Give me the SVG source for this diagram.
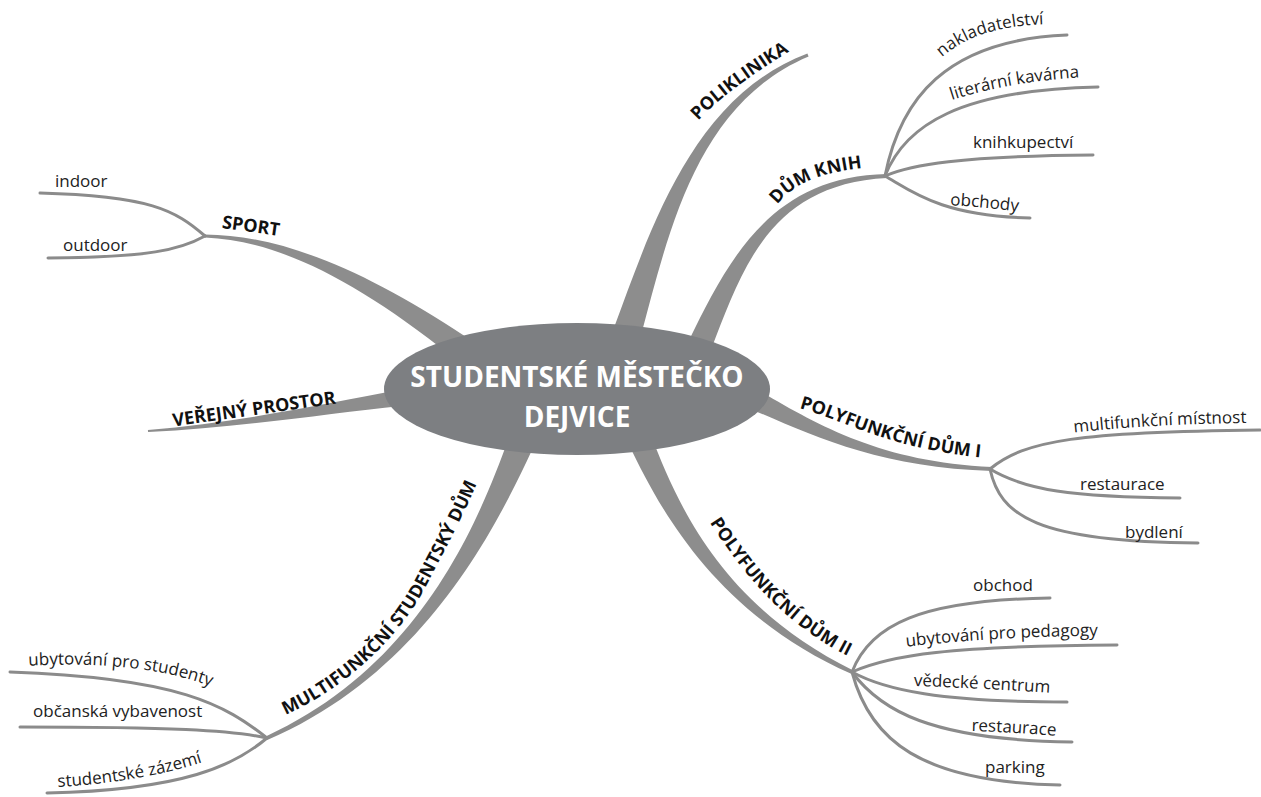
<svg xmlns="http://www.w3.org/2000/svg" width="1261" height="797" viewBox="0 0 1261 797">
  <style>
    .branch { fill: #8d8d8d; }
    .twig { fill: none; stroke: #8b8b8b; stroke-width: 3; stroke-linecap: round; }
    .topic { font-family: "Open Sans", "Liberation Sans", sans-serif; font-weight: 700; font-size: 18px; fill: #111; }
    .leaf { font-family: "Open Sans", "Liberation Sans", sans-serif; font-size: 17px; fill: #222; }
    .hub { font-family: "Open Sans", "Liberation Sans", sans-serif; font-weight: 700; font-size: 28px; fill: #fff; text-anchor: middle; }
    .mid { text-anchor: middle; }
  </style>
  <defs>
    <!-- baselines for curved labels -->
    <path id="tp-poli" d="M 690 130 C 710 105, 745 78, 800 45"/>
    <path id="tp-knih" d="M 772 213 C 785 190, 810 172, 872 167"/>
    <path id="tp-poly1" d="M 795 407 C 845 420, 885 448, 985 458"/>
    <path id="tp-poly2" d="M 705 515 C 737 565, 780 625, 856 660"/>
    <path id="tp-multi" d="M 278 718 C 335 695, 395 645, 425 588 S 466 510, 480 476"/>
    <path id="tp-nakl" d="M 936 63 C 960 38, 995 25, 1052 24"/>
    <path id="tp-lit" d="M 946 102 C 980 90, 1030 80, 1086 77"/>
    <path id="tp-obchody" d="M 946 205 Q 985 207, 1022 212"/>
    <path id="tp-mm" d="M 1071 433 Q 1150 424, 1250 423"/>
    <path id="tp-ped" d="M 904 647 Q 1000 636, 1100 636"/>
    <path id="tp-ved" d="M 912 686 Q 980 688, 1052 693"/>
    <path id="tp-rest2" d="M 971 731 Q 1010 732, 1057 736"/>
    <path id="tp-ubs" d="M 24 666 C 90 662, 160 666, 215 688"/>
    <path id="tp-zaz" d="M 57 787 C 110 784, 160 776, 203 762"/>
  </defs>

  <rect width="1261" height="797" fill="#fff"/>

  <g id="connectors">
    <!-- tapered main branches -->
    <path class="branch" d="M 465 336.3 C 364.1 269.3, 280.1 235, 205 234.5 L 205 237.5 C 279.9 241, 355.9 280.7, 451 355.7 Z"/>
    <path class="branch" d="M 398.9 390.1 C 329.3 403, 239.8 422.5, 147.9 430 L 148.1 432 C 240.2 427.5, 330.7 413, 401.1 405.9 Z"/>
    <path class="branch" d="M 641.3 334.3 C 668.6 232.7, 696.5 103.7, 808.6 56.4 L 807.4 53.6 C 693.5 96.3, 651.4 227.3, 614.7 325.7 Z"/>
    <path class="branch" d="M 711 349.8 C 742.3 268.2, 770.1 184, 887.1 178 L 886.9 174 C 769.9 176, 727.7 261.8, 689 340.2 Z"/>
    <path class="branch" d="M 750.5 408.9 C 812.3 435.4, 879.9 468, 991.9 471 L 992.1 467 C 880.1 462, 817.7 424.6, 759.5 391.1 Z"/>
    <path class="branch" d="M 629 444.7 C 661.7 513.5, 717.9 614.5, 851.2 673.8 L 852.8 670.2 C 722.1 605.5, 678.3 506.5, 651 435.3 Z"/>
    <path class="branch" d="M 508 440 C 476.7 526.6, 418.4 666.3, 266.2 736.2 L 267.8 739.8 C 421.6 673.7, 493.3 533.4, 532 450 Z"/>

    <!-- SPORT twigs -->
    <path class="twig" d="M 205 236 C 175 210, 150 196, 40 193"/>
    <path class="twig" d="M 205 236 C 180 250, 150 257, 48 258"/>
    <!-- DŮM KNIH twigs -->
    <path class="twig" d="M 885 176 C 900 100, 945 40, 1067 35"/>
    <path class="twig" d="M 885 176 C 905 125, 960 90, 1098 87"/>
    <path class="twig" d="M 885 176 C 910 165, 960 156, 1093 155"/>
    <path class="twig" d="M 885 176 C 910 190, 940 216, 1030 218"/>
    <!-- POLYFUNKČNÍ DŮM I twigs -->
    <path class="twig" d="M 990 469 C 1025 440, 1080 432, 1260 430"/>
    <path class="twig" d="M 990 469 C 1025 490, 1070 497, 1180 498"/>
    <path class="twig" d="M 990 469 C 1000 515, 1035 542, 1198 543"/>
    <!-- POLYFUNKČNÍ DŮM II twigs -->
    <path class="twig" d="M 852 672 C 870 625, 920 600, 1050 598"/>
    <path class="twig" d="M 852 672 C 890 655, 950 646, 1117 645"/>
    <path class="twig" d="M 852 672 C 885 690, 940 702, 1067 702"/>
    <path class="twig" d="M 852 672 C 880 710, 930 740, 1072 742"/>
    <path class="twig" d="M 852 672 C 870 740, 920 782, 1060 785"/>
    <!-- MULTIFUNKČNÍ STUDENTSKÝ DŮM twigs -->
    <path class="twig" d="M 267 738 C 225 705, 180 678, 10 672"/>
    <path class="twig" d="M 267 738 C 230 730, 170 727, 20 727"/>
    <path class="twig" d="M 267 738 C 235 765, 185 790, 47 793"/>
  </g>

  <g id="center">
    <ellipse cx="577" cy="389" rx="193" ry="66" fill="#7d7f82"/>
    <text class="hub" x="577" y="387">STUDENTSKÉ MĚSTEČKO</text>
    <text class="hub" x="577" y="427">DEJVICE</text>
  </g>

  <g id="sport">
    <text class="topic mid" transform="translate(251 226) rotate(8)" y="6">SPORT</text>
    <g id="sport-indoor"><text class="leaf" x="55" y="187">indoor</text></g>
    <g id="sport-outdoor"><text class="leaf" x="63" y="251">outdoor</text></g>
  </g>

  <g id="verejny-prostor">
    <text class="topic mid" transform="translate(254 409) rotate(-8)" y="6">VEŘEJNÝ PROSTOR</text>
  </g>

  <g id="poliklinika">
    <text class="topic mid"><textPath href="#tp-poli" startOffset="50%">POLIKLINIKA</textPath></text>
  </g>

  <g id="dum-knih">
    <text class="topic mid"><textPath href="#tp-knih" startOffset="50%">DŮM KNIH</textPath></text>
    <g id="knih-nakladatelstvi"><text class="leaf mid"><textPath href="#tp-nakl" startOffset="50%">nakladatelství</textPath></text></g>
    <g id="knih-kavarna"><text class="leaf mid"><textPath href="#tp-lit" startOffset="50%">literární kavárna</textPath></text></g>
    <g id="knih-knihkupectvi"><text class="leaf" x="973" y="148">knihkupectví</text></g>
    <g id="knih-obchody"><text class="leaf mid"><textPath href="#tp-obchody" startOffset="50%">obchody</textPath></text></g>
  </g>

  <g id="polyfunkcni-1">
    <text class="topic mid"><textPath href="#tp-poly1" startOffset="50%">POLYFUNKČNÍ DŮM I</textPath></text>
    <g id="p1-mistnost"><text class="leaf mid"><textPath href="#tp-mm" startOffset="50%">multifunkční místnost</textPath></text></g>
    <g id="p1-restaurace"><text class="leaf" x="1080" y="490">restaurace</text></g>
    <g id="p1-bydleni"><text class="leaf" x="1125" y="538">bydlení</text></g>
  </g>

  <g id="polyfunkcni-2">
    <text class="topic mid"><textPath href="#tp-poly2" startOffset="50%">POLYFUNKČNÍ DŮM II</textPath></text>
    <g id="p2-obchod"><text class="leaf" x="973" y="591">obchod</text></g>
    <g id="p2-pedagogove"><text class="leaf mid"><textPath href="#tp-ped" startOffset="50%">ubytování pro pedagogy</textPath></text></g>
    <g id="p2-vedecke"><text class="leaf mid"><textPath href="#tp-ved" startOffset="50%">vědecké centrum</textPath></text></g>
    <g id="p2-restaurace"><text class="leaf mid"><textPath href="#tp-rest2" startOffset="50%">restaurace</textPath></text></g>
    <g id="p2-parking"><text class="leaf" x="985" y="773">parking</text></g>
  </g>

  <g id="multifunkcni">
    <text class="topic mid"><textPath href="#tp-multi" startOffset="50%">MULTIFUNKČNÍ STUDENTSKÝ DŮM</textPath></text>
    <g id="m-studenti"><text class="leaf mid"><textPath href="#tp-ubs" startOffset="50%">ubytování pro studenty</textPath></text></g>
    <g id="m-vybavenost"><text class="leaf" x="33" y="717">občanská vybavenost</text></g>
    <g id="m-zazemi"><text class="leaf mid"><textPath href="#tp-zaz" startOffset="50%">studentské zázemí</textPath></text></g>
  </g>
</svg>
